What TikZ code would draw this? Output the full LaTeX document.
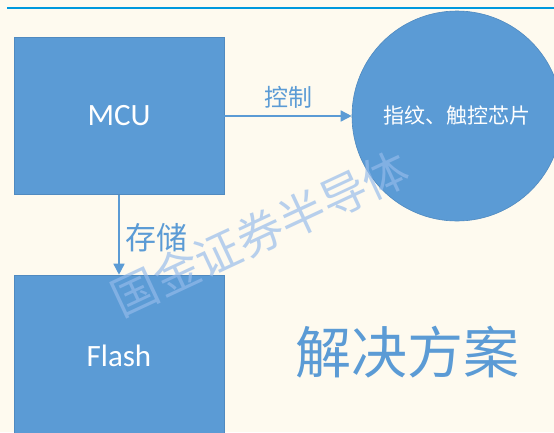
\documentclass[tikz,border=0pt]{standalone}
\usepackage{fontspec}
\setmainfont{Carlito}
\newfontfamily\cjk{Noto Sans CJK SC}
\usetikzlibrary{arrows.meta}
\definecolor{bg}{RGB}{254,250,239}
\definecolor{boxblue}{RGB}{91,155,213}
\definecolor{boxedge}{RGB}{80,138,192}
\definecolor{topline}{RGB}{0,153,221}
\definecolor{wm}{RGB}{149,187,235}
\tikzset{
  blockbox/.style={rectangle, fill=boxblue, draw=boxedge, line width=0.6pt, text=white, font=\fontsize{31}{31}\selectfont, inner sep=0pt},
  roundbox/.style={circle, fill=boxblue, draw=boxedge, line width=0.6pt, text=white, font=\cjk\fontsize{21}{21}\selectfont, inner sep=0pt, minimum size=210pt},
  link/.style={draw=boxblue, line width=1.5pt, -{Triangle[length=11pt,width=11pt]}},
  lbl/.style={text=boxblue, inner sep=0pt},
}
\begin{document}
\begin{tikzpicture}[x=1pt,y=-1pt]
\clip (0,0) rectangle (554,432);
\fill[bg] (0,0) rectangle (554,432);
\draw[topline, line width=2pt] (7,7.5) -- (554,7.5);
\node[blockbox, minimum width=210pt, minimum height=157pt] (mcu) at (119,116) {MCU};
\node[blockbox, minimum width=210pt, minimum height=162pt] (flash) at (119,356) {Flash};
\node[roundbox] (chip) at (457,116) {指纹、触控芯片};
\draw[link] (mcu.east) -- (chip.west);
\draw[link] (mcu.south) -- (flash.north);
\node[lbl, font=\cjk\fontsize{24}{24}\selectfont] (ctrl) at (288,97) {控制};
\node[lbl, font=\cjk\fontsize{31}{31}\selectfont] (store) at (156,237.5) {存储};
\node[lbl, font=\cjk\fontsize{56}{56}\selectfont] (title) at (407,352) {解决方案};
\node[text=wm, opacity=0.67, rotate=25, font=\cjk\fontsize{46}{46}\selectfont, inner sep=0pt] (wmark) at (260,233) {国金证券半导体};
\end{tikzpicture}
\end{document}
